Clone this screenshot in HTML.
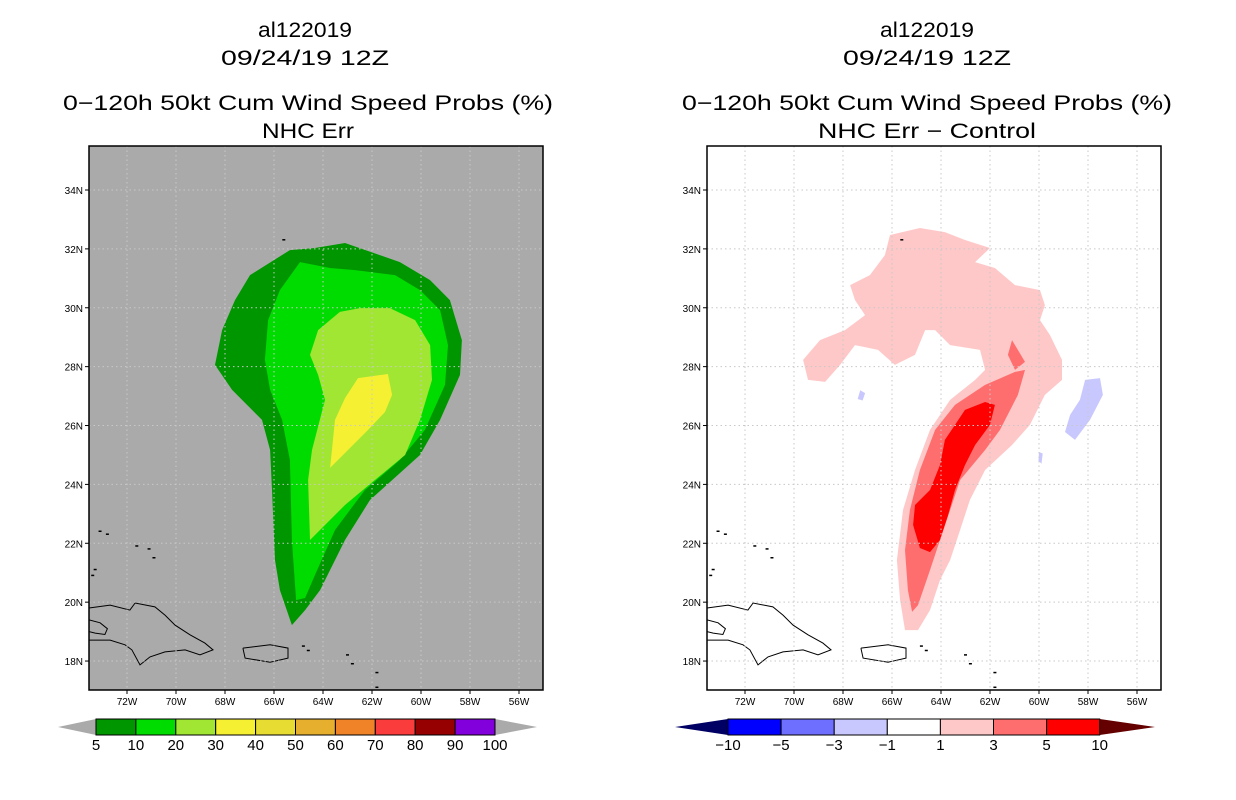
<!DOCTYPE html>
<html><head><meta charset="utf-8"><style>
html,body{margin:0;padding:0;background:#fff;}
svg{display:block;font-family:"Liberation Sans",sans-serif;}
.t{font-size:21px;text-anchor:middle;fill:#000;}
.tk{font-size:10px;fill:#000;}
.cb{font-size:15px;text-anchor:middle;fill:#000;}
</style></head><body>
<svg id="s" width="1236" height="800" viewBox="0 0 1236 800">
<g>
<text class="t" x="305" y="37" textLength="94" lengthAdjust="spacingAndGlyphs">al122019</text>
<text class="t" x="305" y="65" textLength="168" lengthAdjust="spacingAndGlyphs">09/24/19 12Z</text>
<text class="t" x="308" y="110" textLength="490" lengthAdjust="spacingAndGlyphs">0−120h 50kt Cum Wind Speed Probs (%)</text>
<text class="t" x="308" y="138" textLength="92" lengthAdjust="spacingAndGlyphs">NHC Err</text>
</g>
<g>
<text class="t" x="927" y="37" textLength="94" lengthAdjust="spacingAndGlyphs">al122019</text>
<text class="t" x="927" y="65" textLength="168" lengthAdjust="spacingAndGlyphs">09/24/19 12Z</text>
<text class="t" x="927" y="110" textLength="490" lengthAdjust="spacingAndGlyphs">0−120h 50kt Cum Wind Speed Probs (%)</text>
<text class="t" x="927" y="138" textLength="218" lengthAdjust="spacingAndGlyphs">NHC Err − Control</text>
</g>
<g id="left"></g>
<g id="right"></g>
<g id="cb"></g>
</svg>
<script>
const lonTicks=[72,70,68,66,64,62,60,58,56];
const latTicks=[34,32,30,28,26,24,22,20,18];
const p5=[[65.35,31.96],[66.98,31.11],[67.59,30.26],[68.12,29.24],[68.41,28.06],[67.71,27.21],[66.49,26.19],[66.16,25.17],[66.08,23.81],[65.96,21.43],[65.76,20.41],[65.27,19.22],[64.73,19.73],[64.12,20.41],[63.10,22.11],[62.08,23.47],[60.04,25.0],[59.22,26.19],[58.41,27.72],[58.33,28.9],[58.82,30.26],[59.63,30.94],[60.86,31.55],[63.10,32.2],[64.33,32.03]];
const p10=[[64.94,31.55],[65.76,30.6],[66.24,29.58],[66.37,28.23],[66.16,27.21],[65.67,26.19],[65.35,24.83],[65.27,22.11],[65.1,20.07],[64.73,20.14],[64.33,20.92],[63.51,22.45],[62.29,23.81],[60.86,24.83],[59.84,25.85],[59.02,27.38],[58.9,28.73],[59.22,29.92],[60.04,30.6],[61.06,31.11],[62.69,31.28],[63.71,31.35]];
const p20=[[63.31,29.86],[64.2,29.24],[64.53,28.4],[64.2,27.72],[63.92,26.87],[64.45,25.17],[64.61,24.15],[64.53,22.11],[63.92,22.62],[63.1,23.3],[61.88,24.15],[60.65,25.0],[60.04,26.19],[59.55,27.55],[59.63,28.73],[60.24,29.58],[61.27,29.99],[62.49,29.99]];
const p30=[[62.57,27.61],[63.1,26.93],[63.51,26.19],[63.71,24.56],[62.98,25.17],[62.16,25.85],[61.47,26.46],[61.18,27.04],[61.35,27.75]];
const d1=[[66.08,32.47],[64.86,32.71],[63.84,32.57],[63.02,32.3],[62.0,32.03],[62.61,31.55],[61.8,31.35],[60.98,30.77],[59.96,30.6],[59.76,30.09],[59.96,29.58],[59.55,29.07],[59.06,28.23],[59.06,27.55],[59.76,27.04],[60.37,26.02],[61.1,25.34],[62.2,24.49],[62.82,23.47],[63.22,22.45],[63.63,21.43],[64.04,20.75],[64.45,19.73],[64.94,19.05],[65.47,19.05],[65.67,20.07],[65.8,21.43],[65.55,23.13],[65.06,24.49],[64.45,25.85],[63.63,26.87],[62.61,27.55],[62.2,27.89],[62.41,28.57],[63.63,28.73],[64.24,29.24],[64.65,29.24],[65.06,28.4],[65.88,28.06],[66.57,28.57],[67.51,28.73],[68.12,28.06],[68.73,27.48],[69.43,27.55],[69.63,28.23],[68.94,28.9],[67.92,29.24],[67.1,29.75],[67.51,30.26],[67.71,30.77],[66.9,31.11],[66.29,31.79]];
const d3=[[60.98,27.82],[60.57,27.89],[60.86,27.04],[61.59,25.85],[62.2,25.17],[63.22,24.15],[63.63,23.13],[64.04,22.11],[64.45,21.09],[64.94,19.9],[65.18,19.67],[65.35,20.41],[65.47,21.77],[65.27,23.13],[64.86,24.49],[64.24,25.85],[63.43,26.7],[62.2,27.38]];
const d3b=[[61.1,28.9],[60.57,28.16],[60.98,27.89],[61.27,28.4]];
const d5=[[63.02,26.53],[62.2,26.8],[61.8,26.7],[62.0,26.02],[62.61,25.34],[63.02,24.66],[63.43,23.81],[63.71,22.96],[64.04,22.11],[64.45,21.7],[64.86,21.84],[65.14,22.62],[65.06,23.3],[64.45,23.81],[64.04,24.66],[63.84,25.51],[63.43,26.02]];
const dn1=[[58.12,27.55],[57.51,27.61],[57.39,27.04],[57.92,26.19],[58.53,25.51],[58.94,25.78],[58.73,26.36],[58.33,26.87]];
const dn1b=[[67.3,27.2],[67.1,27.1],[67.2,26.85],[67.4,26.9]];
const dn1c=[[60.0,25.1],[59.85,25.05],[59.9,24.7],[60.02,24.8]];
const hisp=[[73.55,19.8],[72.69,19.9],[71.88,19.73],[71.67,19.97],[70.86,19.84],[70.45,19.56],[70.04,19.22],[69.43,18.89],[68.82,18.61],[68.49,18.38],[69.02,18.21],[69.63,18.38],[70.45,18.31],[71.06,18.14],[71.47,17.87],[71.8,18.38],[72.08,18.55],[72.69,18.71],[73.31,18.71],[73.55,18.71]];
const hispBay=[[73.55,19.4],[73.1,19.3],[72.8,19.1],[72.9,18.9],[73.3,18.95],[73.55,19.0]];
const pr=[[67.27,18.44],[66.16,18.55],[65.43,18.44],[65.43,18.1],[66.16,17.96],[67.18,18.1],[67.27,18.44]];
const isles=[[73.1,22.4],[72.8,22.3],[71.6,21.9],[71.1,21.8],[70.9,21.5],[73.3,21.1],[73.4,20.9],[64.8,18.5],[64.6,18.35],[63.0,18.2],[62.8,17.9],[61.8,17.6],[61.8,17.1],[65.6,32.3]];
const cbLeftLabels=["5","10","20","30","40","50","60","70","80","90","100"];
const cbLeftColors=["#009600","#00dc00","#a0e632","#f5f032","#e6dc32","#e6af2d","#f08228","#fa3c3c","#960000","#8200dc"];
const cbRightLabels=["−10","−5","−3","−1","1","3","5","10"];
const cbRightColors=["#0000ff","#6e6eff","#c8c8ff","#ffffff","#ffc8c8","#ff6e6e","#ff0000"];

const NS="http://www.w3.org/2000/svg";
function mk(tag,attrs,parent){const e=document.createElementNS(NS,tag);for(const k in attrs)e.setAttribute(k,attrs[k]);parent.appendChild(e);return e;}
function makeMap(g,ox){
  const X0=ox+89,X1=ox+543,Y0=146,Y1=690;
  const xs=lon=>ox+127+(72-lon)*24.5;
  const ys=lat=>190+(34-lat)*29.44;
  const pts=a=>a.map(p=>xs(p[0]).toFixed(1)+","+ys(p[1]).toFixed(1)).join(" ");
  return {X0,X1,Y0,Y1,xs,ys,pts};
}
function drawFrame(g,m,bg){
  const cid="clip"+m.X0;
  const d=mk("clipPath",{id:cid},g);mk("rect",{x:m.X0,y:m.Y0,width:m.X1-m.X0,height:m.Y1-m.Y0},d);
  const r=mk("rect",{x:m.X0,y:m.Y0,width:m.X1-m.X0,height:m.Y1-m.Y0,fill:bg},g);
  
  
  const inner=mk("g",{"clip-path":"url(#"+cid+")"},g);
  return inner;
}
function poly(parent,m,a,fill,name){
  const p=mk("polygon",{points:m.pts(a),fill:fill},parent);
  
  
}
function finish(g,inner,m){
  const c=mk("polyline",{points:m.pts(hisp),fill:"none",stroke:"#000","stroke-width":1},inner);
  
  
  mk("polyline",{points:m.pts(hispBay),fill:"none",stroke:"#000","stroke-width":1},inner);
  const q=mk("polyline",{points:m.pts(pr),fill:"none",stroke:"#000","stroke-width":1},inner);
  
  
  isles.forEach(p=>{mk("rect",{x:m.xs(p[0])-1.5,y:m.ys(p[1])-1,width:3,height:1.5,fill:"#000"},inner);});
  lonTicks.forEach(l=>{const x=m.xs(l);
    const gl=mk("line",{x1:x,y1:m.Y0,x2:x,y2:m.Y1,stroke:"#c8c8c8","stroke-width":1,"stroke-dasharray":"1.5,3"},inner);
    
    
    mk("line",{x1:x,y1:m.Y1,x2:x,y2:m.Y1+4,stroke:"#000"},g);
    const t=mk("text",{class:"tk",x:x,y:m.Y1+15,"text-anchor":"middle"},g);t.textContent=l+"W";
    
    
  });
  latTicks.forEach(l=>{const y=m.ys(l);
    const gl=mk("line",{x1:m.X0,y1:y,x2:m.X1,y2:y,stroke:"#c8c8c8","stroke-width":1,"stroke-dasharray":"1.5,3"},inner);
    
    
    mk("line",{x1:m.X0-4,y1:y,x2:m.X0,y2:y,stroke:"#000"},g);
    const t=mk("text",{class:"tk",x:m.X0-6,y:y+4,"text-anchor":"end"},g);t.textContent=l+"N";
    
    
  });
  const b=mk("rect",{x:m.X0,y:m.Y0,width:m.X1-m.X0,height:m.Y1-m.Y0,fill:"none",stroke:"#000","stroke-width":1.5},g);
  
  
}
const L=document.getElementById("left"),R=document.getElementById("right");
const mL=makeMap(L,0),mR=makeMap(R,618);
const iL=drawFrame(L,mL,"#aaaaaa");
poly(iL,mL,p5,"#009600","contour-5pct");
poly(iL,mL,p10,"#00dc00","contour-10pct");
poly(iL,mL,p20,"#a0e632","contour-20pct");
poly(iL,mL,p30,"#f5f032","contour-30pct");
finish(L,iL,mL);
const iR=drawFrame(R,mR,"#ffffff");
poly(iR,mR,d1,"#ffc8c8","diff-1");
poly(iR,mR,d3,"#ff6e6e","diff-3");
poly(iR,mR,d3b,"#ff6e6e","diff-3-small");
poly(iR,mR,d5,"#ff0000","diff-5");
poly(iR,mR,dn1,"#c8c8ff","diff-neg1");
poly(iR,mR,dn1b,"#c8c8ff","diff-neg1-small");
poly(iR,mR,dn1c,"#c8c8ff","diff-neg1-small");
finish(R,iR,mR);

const CB=document.getElementById("cb");
function colorbar(x0,w,tl,tr,labels,colors,leftTri,rightTri){
  const y0=719,h=16;
  const a=mk("polygon",{points:`${tl},${y0+h/2} ${x0},${y0} ${x0},${y0+h}`,fill:leftTri},CB);
  
  
  const xe=x0+w*colors.length;
  const c=mk("polygon",{points:`${tr},${y0+h/2} ${xe},${y0} ${xe},${y0+h}`,fill:rightTri},CB);
  
  
  colors.forEach((col,i)=>{
    const r=mk("rect",{x:x0+i*w,y:y0,width:w,height:h,fill:col,stroke:"#000","stroke-width":1},CB);
    
    
  });
  labels.forEach((lb,i)=>{
    const t=mk("text",{class:"cb",x:x0+i*w,y:y0+h+15},CB);t.textContent=lb;
    
    
  });
}
colorbar(96,39.9,58,537,cbLeftLabels,cbLeftColors,"#aaaaaa","#aaaaaa");
colorbar(728,53.1,675,1155,cbRightLabels,cbRightColors,"#000064","#640000");
</script>
</body></html>
